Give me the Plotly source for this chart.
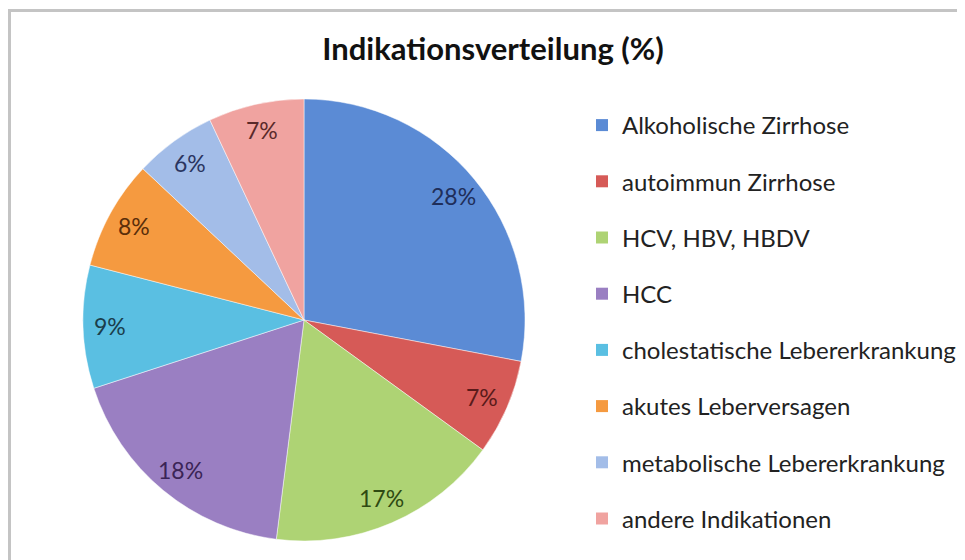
import math

import plotly.graph_objs as go

# data
labels = ["Alkoholische Zirrhose", "autoimmun Zirrhose", "HCV, HBV, HBDV", "HCC",
          "cholestatische Lebererkrankung", "akutes Leberversagen",
          "metabolische Lebererkrankung", "andere Indikationen"]
values = [28, 7, 17, 18, 9, 8, 6, 7]
colors = ["#5B8BD5", "#D65A57", "#AED374", "#9A7FC2",
          "#5ABFE2", "#F59A40", "#A3BDE8", "#F0A3A0"]
label_colors = ["#1F2E5A", "#5A1A1A", "#2E4A12", "#3A2456",
                "#1A3E4C", "#5A2E0A", "#2A3560", "#5A2A2A"]

W, H = 965, 560
OFF = 8  # page margin around the plot div
FONT = "Lato"


def px_x(px):
    return (px - OFF) / W


def px_y(py):
    return 1 - (py - OFF) / H


# pie placement in page pixels (left, right, top, bottom)
px_l, px_r, px_t, px_b = 83, 525, 98, 542
cx, cy = (px_l + px_r) / 2, (px_t + px_b) / 2
r = min(px_r - px_l, px_b - px_t) / 2

fig = go.Figure()
fig.add_trace(go.Pie(
    labels=labels, values=values, sort=False, direction="clockwise", rotation=0,
    marker=dict(colors=colors, line=dict(color="rgba(255,255,255,0.6)", width=0.8)),
    textinfo="none", hoverinfo="label+percent", showlegend=False,
    domain=dict(x=[px_x(px_l), px_x(px_r)], y=[px_y(px_b), px_y(px_t)]),
))

# legend entries with even spacing (one group per item)
for i, (lab, col) in enumerate(zip(labels, colors)):
    fig.add_trace(go.Scatter(
        x=[None], y=[None], mode="markers", name=lab, legendgroup=f"g{i}",
        marker=dict(symbol="square", size=12, color=col),
    ))

# percentage labels placed along each slice's mid angle
total = sum(values)
annotations = []
cum = 0
for v, col in zip(values, label_colors):
    ang = (cum + v / 2) / total * 2 * math.pi
    x = cx + 0.88 * r * math.sin(ang)
    y = cy - 0.88 * r * math.cos(ang)
    annotations.append(dict(
        x=px_x(x), y=px_y(y), xref="paper", yref="paper", showarrow=False,
        xanchor="center", yanchor="middle",
        text=f"{round(v / total * 100)}%", font=dict(family=FONT, size=23, color=col),
    ))
    cum += v

fig.update_layout(
    width=W, height=H,
    margin=dict(l=0, r=0, t=0, b=0),
    paper_bgcolor="white", plot_bgcolor="white",
    title=dict(text="<b>Indikationsverteilung (%)</b>", x=px_x(493), y=px_y(49),
               xanchor="center", yanchor="middle",
               font=dict(family=FONT, size=31, color="#111111")),
    xaxis=dict(visible=False), yaxis=dict(visible=False),
    legend=dict(x=px_x(582), y=px_y(103), xanchor="left", yanchor="top",
                font=dict(family=FONT, size=24, color="#222222"),
                tracegroupgap=22, bgcolor="rgba(0,0,0,0)"),
    annotations=annotations,
    shapes=[dict(type="rect", xref="paper", yref="paper",
                 x0=px_x(9.5), y0=-0.1, x1=1.1, y1=px_y(10.5),
                 line=dict(color="#C4C4C4", width=3))],
)

fig.write_html("out.html")
